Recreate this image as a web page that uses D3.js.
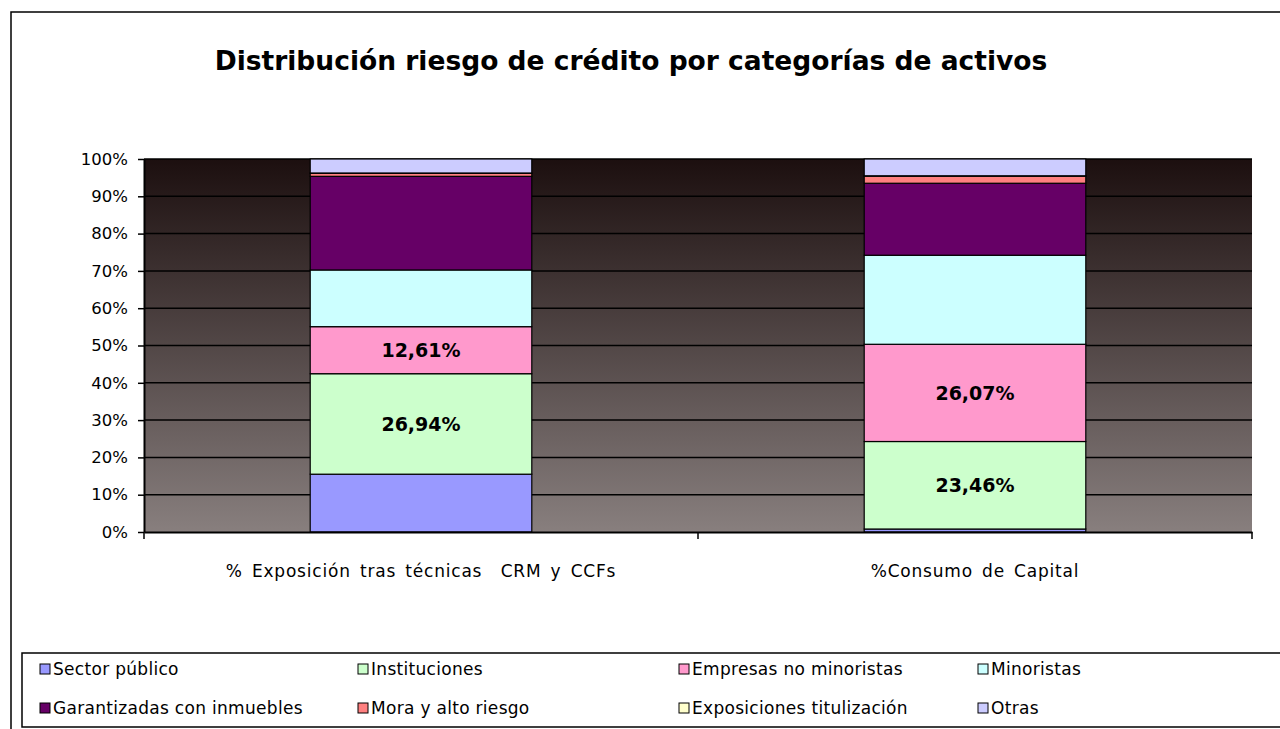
<!DOCTYPE html>
<html lang="es">

<head>
    <meta charset="UTF-8">
    <title>Distribución riesgo de crédito</title>
    <style>
        body { margin: 0; background: #fff; }
        text { font-family: "DejaVu Sans", sans-serif; }
    </style>
</head>

<body>
    <div id="wrapper"></div>
    <script src="https://d3js.org/d3.v7.min.js"></script>
    <script>
        // datos
        const categories = ['% Exposición tras técnicas  CRM y CCFs', '%Consumo de Capital'];
        const seriesNames = ['Sector público', 'Instituciones', 'Empresas no minoristas', 'Minoristas',
            'Garantizadas con inmuebles', 'Mora y alto riesgo', 'Exposiciones titulización', 'Otras'];
        const seriesColors = ['#9999ff', '#ccffcc', '#ff99cc', '#ccffff', '#660066', '#ff8080', '#ffffcc', '#ccccff'];
        // valores por serie [exposición, consumo]
        const sectorPublico = [15.5, 0.8];
        const instituciones = [26.94, 23.46];
        const empresas = [12.61, 26.07];
        const minoristas = [15.2, 23.87];
        const garantizadas = [25.1, 19.3];
        const mora = [0.8, 1.9];
        const titulizacion = [0.1, 0.1];
        const otras = [3.75, 4.5];
        const yTicks = [0, 10, 20, 30, 40, 50, 60, 70, 80, 90, 100];
        // solo estas series llevan etiqueta
        const labeledSeries = ['Instituciones', 'Empresas no minoristas'];

        const allValues = [sectorPublico, instituciones, empresas, minoristas, garantizadas, mora, titulizacion, otras];

        const width = 1280,
            height = 729;
        const plot = { left: 144, right: 1252, top: 159, bottom: 532 };

        const svg = d3.select('#wrapper').append('svg')
            .attr('width', width)
            .attr('height', height);

        // tabla para el stack
        const table = categories.map((c, i) => {
            const row = { cat: c };
            seriesNames.forEach((s, j) => row[s] = allValues[j][i]);
            return row;
        });
        const stacked = d3.stack().keys(seriesNames).offset(d3.stackOffsetExpand)(table);

        // marco exterior
        svg.append('path')
            .attr('d', `M11,${height} V12 H${width}`)
            .attr('fill', 'none')
            .attr('stroke', '#000')
            .attr('stroke-width', 1.5);

        // titulo
        svg.append('text')
            .attr('x', 631)
            .attr('y', 70)
            .attr('text-anchor', 'middle')
            .style('font-size', '26.5px')
            .style('font-weight', 'bold')
            .text('Distribución riesgo de crédito por categorías de activos');

        // fondo degradado
        const grad = svg.append('defs').append('linearGradient')
            .attr('id', 'bg')
            .attr('x1', 0).attr('y1', 0).attr('x2', 0).attr('y2', 1);
        grad.append('stop').attr('offset', '0%').attr('stop-color', '#1c0f0f');
        grad.append('stop').attr('offset', '100%').attr('stop-color', '#887f7e');

        svg.append('rect')
            .attr('x', plot.left)
            .attr('y', plot.top)
            .attr('width', plot.right - plot.left)
            .attr('height', plot.bottom - plot.top)
            .attr('fill', 'url(#bg)');

        // escalas
        const xScale = d3.scaleBand()
            .domain(categories)
            .range([plot.left, plot.right])
            .paddingInner(0.6)
            .paddingOuter(0.3);
        const xAxisScale = d3.scaleBand()
            .domain(categories)
            .range([plot.left, plot.right]);
        const yScale = d3.scaleLinear()
            .domain([0, 1])
            .range([plot.bottom, plot.top]);

        // lineas de cuadricula
        svg.append('g')
            .selectAll('line')
            .data(yTicks.slice(1))
            .join('line')
            .attr('x1', plot.left)
            .attr('x2', plot.right)
            .attr('y1', d => yScale(d / 100))
            .attr('y2', d => yScale(d / 100))
            .attr('stroke', '#000')
            .attr('stroke-width', 1.5);

        // barras
        const groups = svg.append('g')
            .selectAll('g')
            .data(stacked)
            .join('g')
            .attr('fill', (d, i) => seriesColors[i]);

        groups.selectAll('rect')
            .data(d => d)
            .join('rect')
            .attr('x', d => xScale(d.data.cat))
            .attr('y', d => yScale(d[1]))
            .attr('width', xScale.bandwidth())
            .attr('height', d => yScale(d[0]) - yScale(d[1]))
            .attr('stroke', '#000')
            .attr('stroke-width', 1.2);

        // etiquetas de datos
        stacked.filter(s => labeledSeries.includes(s.key)).forEach(s => {
            svg.append('g')
                .selectAll('text')
                .data(s)
                .join('text')
                .attr('x', d => xScale(d.data.cat) + xScale.bandwidth() / 2)
                .attr('y', d => yScale((d[0] + d[1]) / 2) + 7)
                .attr('text-anchor', 'middle')
                .style('font-size', '19px')
                .style('font-weight', 'bold')
                .text(d => d3.format('.2f')(d.data[s.key]).replace('.', ',') + '%');
        });

        // eje Y
        const yAxis = d3.axisLeft(yScale)
            .tickValues(yTicks.map(d => d / 100))
            .tickFormat(d3.format('.0%'))
            .tickSizeInner(6)
            .tickSizeOuter(0)
            .tickPadding(10);
        const yG = svg.append('g')
            .attr('transform', `translate(${plot.left},0)`)
            .call(yAxis);

        // eje X, con marcas entre categorias
        const xAxis = d3.axisBottom(xAxisScale)
            .tickSize(0)
            .tickPadding(33);
        const xG = svg.append('g')
            .attr('transform', `translate(0,${plot.bottom})`)
            .call(xAxis);
        xG.selectAll('.xb')
            .data([plot.left, ...categories.map(c => xAxisScale(c) + xAxisScale.bandwidth())])
            .join('line')
            .attr('x1', d => d).attr('x2', d => d)
            .attr('y1', 0).attr('y2', 7)
            .attr('stroke', '#000')
            .attr('stroke-width', 1.5);

        [yG, xG].forEach(g => {
            g.select('.domain').attr('stroke', '#000').attr('stroke-width', 2);
            g.selectAll('.tick line').attr('stroke', '#000').attr('stroke-width', 1.5);
            g.selectAll('text')
                .attr('fill', '#000')
                .style('font-family', '"DejaVu Sans", sans-serif')
                .style('font-size', '16.5px');
        });
        xG.selectAll('text')
            .style('font-size', '17px')
            .style('white-space', 'pre')
            .style('letter-spacing', '0.8px')
            .style('word-spacing', '3px');

        // leyenda
        svg.append('path')
            .attr('d', `M${width},653 H22 V727 H${width}`)
            .attr('fill', 'none')
            .attr('stroke', '#000')
            .attr('stroke-width', 1.5);

        const legendCols = [40, 358, 679, 978];
        const legendRows = [669, 708];
        const legend = svg.append('g')
            .selectAll('g')
            .data(seriesNames)
            .join('g')
            .attr('transform', (d, i) => `translate(${legendCols[i % 4]},${legendRows[Math.floor(i / 4)]})`);
        legend.append('rect')
            .attr('x', 0)
            .attr('y', -5)
            .attr('width', 10)
            .attr('height', 10)
            .attr('fill', (d, i) => seriesColors[i])
            .attr('stroke', '#000')
            .attr('stroke-width', 1);
        legend.append('text')
            .attr('x', 13)
            .attr('y', 6)
            .style('font-size', '17px')
            .style('letter-spacing', '0.3px')
            .text(d => d);
    </script>
</body>

</html>
